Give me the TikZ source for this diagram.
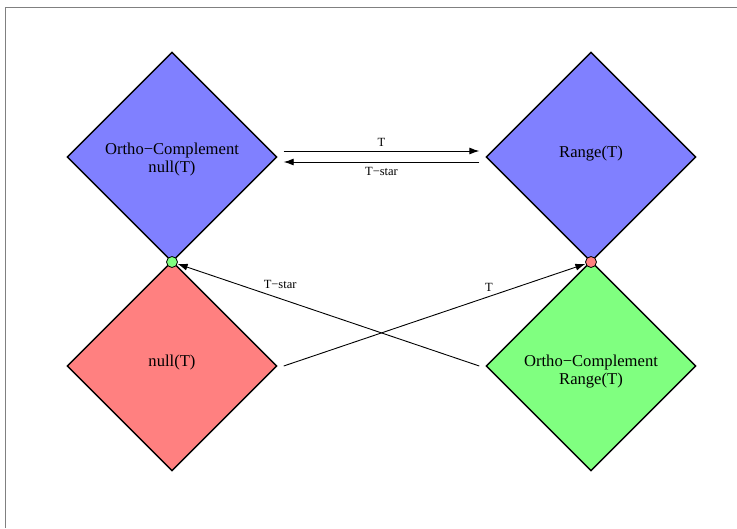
\documentclass[tikz,border=0pt]{standalone}
\usepackage{fontspec}
\setmainfont{Liberation Serif}
\usetikzlibrary{shapes.geometric,arrows.meta,calc}
\definecolor{cblue}{HTML}{8080FF}
\definecolor{cred}{HTML}{FF8080}
\definecolor{cgreen}{HTML}{80FF80}
\begin{document}
\begin{tikzpicture}[x=1pt,y=-1pt,
  dia/.style={diamond,draw=black,line width=1.4pt,minimum width=210pt,minimum height=210pt,inner sep=0pt},
  txt/.style={align=center,inner sep=0pt,font=\fontsize{16.6}{18}\selectfont},
  dot/.style={circle,draw=black,line width=0.8pt,minimum size=11pt,inner sep=0pt},
  arr/.style={-{Latex[length=10pt,width=7pt]},line width=0.9pt},
  lab/.style={font=\fontsize{12.5}{13}\selectfont,inner sep=1pt}]
\useasboundingbox (0,0) rectangle (737,528);
\draw[gray,line width=1pt] (5,528) -- (5,7) -- (737,7);
\node[dia,fill=cblue] (ocn) at (172,157) {};
\node[dia,fill=cblue] (rng) at (591,157) {};
\node[dia,fill=cred] (nul) at (172,366) {};
\node[dia,fill=cgreen] (ocr) at (591,366) {};
\node[txt] (ocnT) at (172,159.5) {Ortho−Complement\\null(T)};
\node[txt] (rngT) at (591,154) {Range(T)};
\node[txt] (nulT) at (172,363) {null(T)};
\node[txt] (ocrT) at (591,372) {Ortho−Complement\\Range(T)};
\node[dot,fill=cgreen] (c1) at (172,262) {};
\node[dot,fill=cred] (c2) at (591,262) {};
\draw[arr] ([xshift=6pt,yshift=6pt]ocn.east) -- node[lab,above=3pt] {T} ([xshift=-6pt,yshift=6pt]rng.west);
\draw[arr] ([xshift=-6pt,yshift=-5pt]rng.west) -- node[lab,below=4pt] {T−star} ([xshift=6pt,yshift=-5pt]ocn.east);
\draw[arr] ([xshift=6pt]nul.east) -- node[lab,pos=0.68,above=4pt] {T} (c2);
\draw[arr] ([xshift=-6pt]ocr.west) -- node[lab,pos=0.66,above=9pt] {T−star} (c1);
\end{tikzpicture}
\end{document}
